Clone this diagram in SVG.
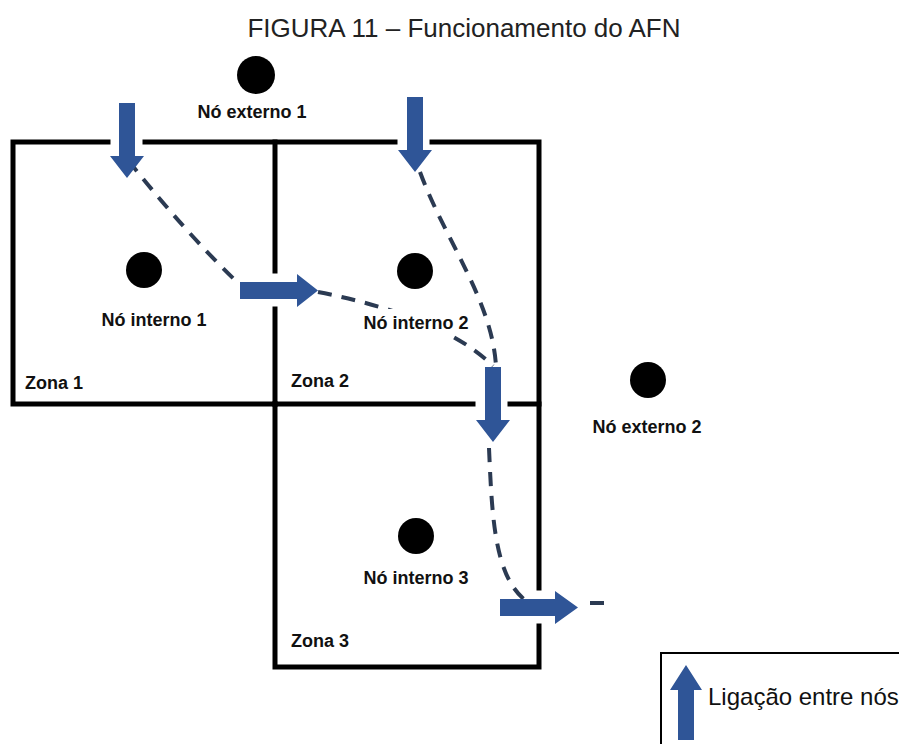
<svg xmlns="http://www.w3.org/2000/svg" width="899" height="744" viewBox="0 0 899 744">
  <style>
    .wall { fill: none; stroke: #000; stroke-width: 5; stroke-linecap: square; }
    .link { fill: #2F5597; }
    .path { fill: none; stroke: #2B3A52; stroke-width: 4; stroke-dasharray: 14 10; }
    .node { fill: #000; }
    .lbl { font-family: "Liberation Sans", Arial, sans-serif; font-size: 18px; font-weight: bold; fill: #111; }
    .title { font-family: "Liberation Sans", Arial, sans-serif; font-size: 26px; fill: #222; }
    .legend { font-family: "Liberation Sans", Arial, sans-serif; font-size: 24px; fill: #111; }
  </style>
  <defs>
    <!-- block arrow pointing down, origin at the tip -->
    <path id="arrowDown" d="M-8,-75 H8 V-22 H17 L0,0 L-17,-22 H-8 Z"/>
  </defs>

  <rect width="899" height="744" fill="#fff"/>

  <text class="title" x="464" y="37" text-anchor="middle">FIGURA 11 – Funcionamento do AFN</text>

  <!-- zone walls, with openings where links pass -->
  <g id="zones">
    <polyline class="wall" points="108,142 13,142 13,404 275,404"/>
    <line class="wall" x1="145" y1="142" x2="395" y2="142"/>
    <polyline class="wall" points="432,142 539,142 539,588"/>
    <line class="wall" x1="275" y1="142" x2="275" y2="271"/>
    <line class="wall" x1="275" y1="309" x2="275" y2="404"/>
    <line class="wall" x1="275" y1="404" x2="473" y2="404"/>
    <line class="wall" x1="510" y1="404" x2="539" y2="404"/>
    <polyline class="wall" points="275,404 275,667 539,667 539,626"/>
  </g>

  <!-- dashed routes -->
  <g id="connectors">
    <path class="path" d="M128,160 Q185,232 238,283"/>
    <path class="path" d="M318,292 C385,305 455,328 493,366"/>
    <path class="path" d="M420,172 C445,240 492,300 496,366"/>
    <path class="path" d="M489,448 C492,515 494,575 525,600"/>
    <line class="path" x1="590" y1="603" x2="606" y2="603"/>
  </g>

  <g id="links">
    <use class="link" href="#arrowDown" x="127" y="178"/>
    <use class="link" href="#arrowDown" x="415" y="172"/>
    <use class="link" href="#arrowDown" x="493" y="442"/>
    <path class="link" d="M240,282 H297 V274 L318,290.5 L297,307 V299 H240 Z"/>
    <path class="link" d="M500,599 H555 V591 L578,607.5 L555,624 V616 H500 Z"/>
  </g>

  <g id="zona1"><text class="lbl" x="25" y="389">Zona 1</text></g>
  <g id="zona2"><text class="lbl" x="291" y="387">Zona 2</text></g>
  <g id="zona3"><text class="lbl" x="291" y="647">Zona 3</text></g>

  <g id="no-externo-1">
    <circle class="node" cx="256" cy="75" r="19"/>
    <text class="lbl" x="252" y="118" text-anchor="middle">Nó externo 1</text>
  </g>
  <g id="no-interno-1">
    <circle class="node" cx="144" cy="270" r="18"/>
    <text class="lbl" x="154" y="326" text-anchor="middle">Nó interno 1</text>
  </g>
  <g id="no-interno-2">
    <circle class="node" cx="415" cy="271" r="18"/>
    <rect x="358" y="309" width="115" height="26" fill="#fff"/>
    <text class="lbl" x="416" y="329" text-anchor="middle">Nó interno 2</text>
  </g>
  <g id="no-interno-3">
    <circle class="node" cx="416" cy="536" r="18"/>
    <text class="lbl" x="416" y="584" text-anchor="middle">Nó interno 3</text>
  </g>
  <g id="no-externo-2">
    <circle class="node" cx="648" cy="380" r="18"/>
    <text class="lbl" x="647" y="433" text-anchor="middle">Nó externo 2</text>
  </g>

  <g id="legenda">
    <polyline fill="none" stroke="#000" stroke-width="2" points="661,744 661,653 899,653"/>
    <path class="link" d="M678,740 V690 H670 L686,665 L702,690 H694 V740 Z"/>
    <text class="legend" x="708" y="705">Ligação entre nós</text>
  </g>
</svg>
